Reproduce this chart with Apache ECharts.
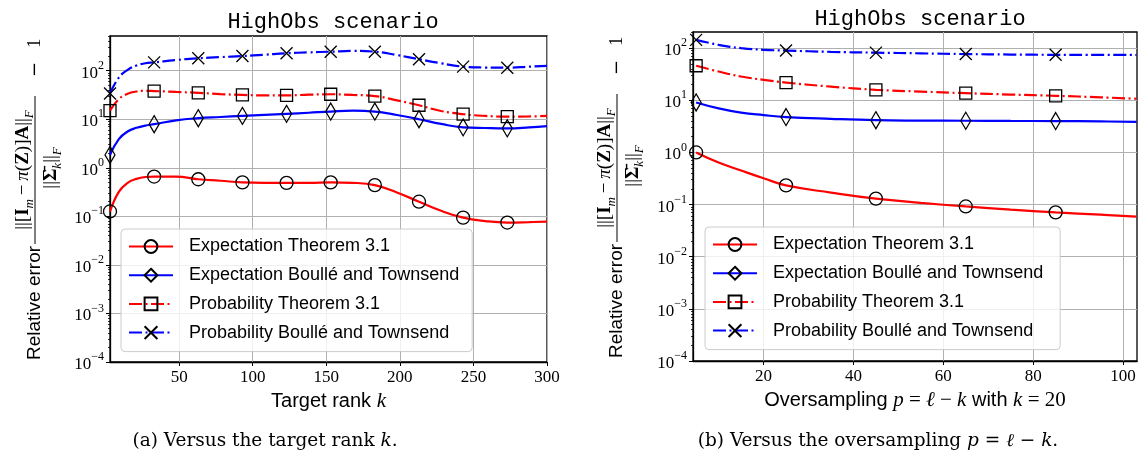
<!DOCTYPE html>
<html><head><meta charset="utf-8">
<script src="https://cdn.jsdelivr.net/npm/echarts@6/dist/echarts.min.js"></script>
<style>html,body{margin:0;padding:0;background:#fff}#c{width:1139px;height:461px}</style>
</head><body><div id="c"></div>
<script>
// ---------- data (left: versus target rank k) ----------
const kRank = [3, 9, 15, 21, 27, 33, 48, 63, 78, 93, 108, 123, 138, 153, 168, 183, 198, 213, 228, 243, 258, 273, 288, 300];
const rankExpThm  = [0.126, 0.32, 0.49, 0.59, 0.645, 0.66, 0.66, 0.58, 0.54, 0.50, 0.49, 0.49, 0.49, 0.50, 0.49, 0.44, 0.31, 0.20, 0.13, 0.094, 0.080, 0.0745, 0.076, 0.078];
const rankExpBT   = [1.84, 3.9, 5.6, 6.65, 7.4, 7.9, 9.5, 10.5, 11.1, 11.7, 12.3, 12.9, 13.6, 14.4, 15.0, 14.4, 12.2, 10.0, 8.0, 6.8, 6.6, 6.5, 6.8, 7.2];
const rankProbThm = [15, 26, 33.5, 37.3, 38.5, 38, 36.5, 35, 33, 31.6, 31, 31, 32, 32.7, 31.6, 30, 24.5, 19.4, 14.8, 12.7, 11.7, 11.3, 11.4, 11.7];
const rankProbBT  = [34, 72, 104, 128, 142, 148, 166, 180, 190, 200, 213, 228, 238, 246, 255, 246, 210, 172, 142, 121, 116, 115, 121, 126];
const rankMarkerK = [3, 33, 63, 93, 123, 153, 183, 213, 243, 273];

// ---------- data (right: versus oversampling p, k = 20) ----------
const pOver = [5, 10, 15, 20, 25, 35, 45, 55, 65, 75, 85, 95, 103];
const overExpThm  = [1.0, 0.64, 0.45, 0.32, 0.233, 0.17, 0.13, 0.108, 0.092, 0.080, 0.071, 0.064, 0.059];
const overExpBT   = [9.1, 7.0, 5.8, 5.2, 4.77, 4.4, 4.15, 4.08, 4.05, 4.02, 4.0, 3.93, 3.87];
const overProbThm = [46, 35.6, 28.6, 24.7, 21.9, 18.3, 15.9, 14.7, 13.7, 12.9, 12.2, 11.4, 10.7];
const overProbBT  = [144, 116, 100, 93, 90, 85, 82, 79.5, 77, 75.5, 74.5, 74.2, 74];
const overMarkerP = [5, 25, 45, 65, 85];

const seriesNames = ['Expectation Theorem 3.1', 'Expectation Boullé and Townsend', 'Probability Theorem 3.1', 'Probability Boullé and Townsend'];
const yTickExps = [-4, -3, -2, -1, 0, 1, 2];
const xTicksRank = [50, 100, 150, 200, 250, 300];
const xTicksOver = [20, 40, 60, 80, 100];

// ---------- styling ----------
const SERIF = "'Liberation Serif','DejaVu Serif',serif";
const DSERIF = "'DejaVu Serif','Liberation Serif',serif";
const SANS = "'Liberation Sans','DejaVu Sans',sans-serif";
const MONO = "'Liberation Mono','DejaVu Sans Mono',monospace";
const DASHDOT = [13, 3.5, 2, 3.5];
const styles = [
  {color: '#ff0000', type: 'solid', symbol: 'circle', size: 13},
  {color: '#0000ff', type: 'solid', symbol: 'diamond', size: [10, 17]},
  {color: '#ff0000', type: DASHDOT, symbol: 'rect', size: 12},
  {color: '#0000ff', type: DASHDOT, symbol: 'path://M0,0L10,10M10,0L0,10', size: 12}
];

const minorLogs = [];
for (let d = -4; d <= 2; d++) for (let m = 2; m <= 9; m++) minorLogs.push(Math.log10(m * Math.pow(10, d)));

function buildSeries(xs, ys, marks, st, name, xi, yi) {
  return {
    type: 'line', name: name, xAxisIndex: xi, yAxisIndex: yi,
    smooth: 0.45,
    symbol: st.symbol, symbolSize: st.size, showAllSymbol: true,
    lineStyle: {color: st.color, width: 2.2, type: st.type},
    itemStyle: {color: 'rgba(0,0,0,0)', borderColor: '#000', borderWidth: 1.3},
    emphasis: {disabled: true},
    data: xs.map((x, i) => marks.indexOf(x) >= 0
      ? [x, Math.log10(ys[i])]
      : {value: [x, Math.log10(ys[i])], symbol: 'none'})
  };
}

function yMain(gi, max) {
  return {
    type: 'value', gridIndex: gi, min: -4, max: max, position: 'left',
    axisLine: {show: true, lineStyle: {color: '#000', width: 1.3}},
    axisTick: {show: true, customValues: yTickExps, length: 4, lineStyle: {color: '#000', width: 1}},
    axisLabel: {
      customValues: yTickExps, margin: 6, color: '#000',
      formatter: v => '{b|10}{s|' + (v < 0 ? '\u2212' + (-v) : v) + '}',
      rich: {
        b: {fontFamily: SERIF, fontSize: 17, color: '#000', lineHeight: 22, verticalAlign: 'bottom'},
        s: {fontFamily: SERIF, fontSize: 12, color: '#000', lineHeight: 12, verticalAlign: 'top'}
      }
    },
    splitLine: {show: true, lineStyle: {color: '#b0b0b0', width: 1}}
  };
}
function yMinor(gi, max) {
  return {
    type: 'value', gridIndex: gi, min: -4, max: max, position: 'left',
    axisLine: {show: false}, axisLabel: {show: false}, splitLine: {show: false},
    axisTick: {show: true, customValues: minorLogs.filter(v => v <= max), length: 2, lineStyle: {color: '#000', width: 0.8}}
  };
}
function xAx(gi, min, max, ticks, nameRich) {
  return {
    type: 'value', gridIndex: gi, min: min, max: max,
    axisLine: {show: true, onZero: false, lineStyle: {color: '#000', width: 1.3}},
    axisTick: {show: true, customValues: ticks, length: 4, lineStyle: {color: '#000', width: 1}},
    axisLabel: {customValues: ticks, margin: 7, fontFamily: SERIF, fontSize: 17, color: '#000'},
    splitLine: {show: true, lineStyle: {color: '#b0b0b0', width: 1}},
    name: nameRich, nameLocation: 'middle', nameGap: 25,
    nameTextStyle: {
      color: '#000',
      rich: {
        t: {fontFamily: SANS, fontSize: 20, color: '#000'},
        m: {fontFamily: SERIF, fontSize: 21, fontStyle: 'italic', color: '#000'},
        r: {fontFamily: SERIF, fontSize: 21, color: '#000'}
      }
    }
  };
}

function legendAt(left, top, padRight) {
  return {
    orient: 'vertical', left: left, top: top,
    data: seriesNames,
    backgroundColor: 'rgba(255,255,255,0.8)', borderColor: '#cccccc', borderWidth: 1, borderRadius: 4,
    padding: [8.5, padRight, 10, 7], itemWidth: 44, itemHeight: 16, itemGap: 10.7,
    selectedMode: false,
    textStyle: {fontFamily: SANS, fontSize: 18, color: '#000', lineHeight: 18, padding: [0, 0, 0, 11]}
  };
}

function yLabel(ox, oy) {
  const n = {fontFamily: SERIF, fontSize: 19, color: '#000', lineHeight: 26};
  const b = {fontFamily: SERIF, fontSize: 19, fontWeight: 'bold', color: '#000', lineHeight: 26};
  const i = {fontFamily: SERIF, fontSize: 19, fontStyle: 'italic', color: '#000', lineHeight: 26};
  const s = {fontFamily: SERIF, fontSize: 13, fontStyle: 'italic', color: '#000', lineHeight: 12, verticalAlign: 'bottom'};
  return {
    type: 'group', x: ox, y: oy, rotation: Math.PI / 2, silent: true,
    children: [
      {type: 'text', x: 0, y: 0, style: {text: 'Relative error', fontFamily: SANS, fontSize: 19, fill: '#000', align: 'left', verticalAlign: 'middle'}},
      {type: 'text', x: 190, y: -12, style: {
        text: '{n|||[}{b|I}{s|m}{n|\u2009\u2212\u2009}{i|\u03c0}{n|(}{b|Z}{n|)]}{b|A}{n|||}{s|F}',
        rich: {n: n, b: b, i: i, s: s}, align: 'center', verticalAlign: 'middle'}},
      {type: 'line', shape: {x1: 116, y1: 0, x2: 264, y2: 0}, style: {stroke: '#000', lineWidth: 1}},
      {type: 'text', x: 192, y: 16, style: {
        text: '{n|||}{b|\u03a3\u0304}{s|k}{n|||}{s|F}',
        rich: {n: n, b: b, i: i, s: s}, align: 'center', verticalAlign: 'middle'}},
      {type: 'text', x: 283, y: 0, style: {text: '\u2212', fontFamily: DSERIF, fontSize: 18, fill: '#000', align: 'left', verticalAlign: 'middle'}},
      {type: 'text', x: 312, y: 0, style: {text: '1', fontFamily: SERIF, fontSize: 19, fill: '#000', align: 'left', verticalAlign: 'middle'}}
    ]
  };
}

function caption(cx, cy, parts) {
  return {
    type: 'text', x: cx, y: cy, silent: true,
    style: {
      text: parts, align: 'center', verticalAlign: 'middle',
      rich: {
        r: {fontFamily: DSERIF, fontSize: 18.5, color: '#000'},
        m: {fontFamily: DSERIF, fontSize: 18.5, fontStyle: 'italic', color: '#000'}
      }
    }
  };
}

const series = [];
const rankData = [rankExpThm, rankExpBT, rankProbThm, rankProbBT];
const overData = [overExpThm, overExpBT, overProbThm, overProbBT];
for (let j = 0; j < 4; j++) series.push(buildSeries(kRank, rankData[j], rankMarkerK, styles[j], seriesNames[j], 0, 0));
for (let j = 0; j < 4; j++) series.push(buildSeries(pOver, overData[j], overMarkerP, styles[j], seriesNames[j], 1, 2));

const option = {
  animation: false,
  backgroundColor: '#fff',
  title: [
    {text: 'HighObs scenario', left: 328, top: 6, textAlign: 'center', textStyle: {fontFamily: MONO, fontSize: 22, fontWeight: 'normal', color: '#000'}},
    {text: 'HighObs scenario', left: 915, top: 3, textAlign: 'center', textStyle: {fontFamily: MONO, fontSize: 22, fontWeight: 'normal', color: '#000'}}
  ],
  grid: [
    {left: 110, right: 592, top: 36, bottom: 99, show: true, borderColor: '#000', borderWidth: 1.3, containLabel: false},
    {left: 693, right: 2, top: 32, bottom: 100, show: true, borderColor: '#000', borderWidth: 1.3, containLabel: false}
  ],
  xAxis: [
    xAx(0, 3, 300, xTicksRank, '{t|Target rank }{m|k}'),
    xAx(1, 4.3, 103.1, xTicksOver, '{t|Oversampling }{m|p}{r| = }{m|\u2113}{r| \u2212 }{m|k}{t| with }{m|k}{r| = 20}')
  ],
  yAxis: [yMain(0, 2.714), yMinor(0, 2.714), yMain(1, 2.31), yMinor(1, 2.31)],
  legend: [legendAt(121, 229, 13), legendAt(705, 227, 17)],
  series: series,
  graphic: [
    yLabel(35, 360),
    yLabel(617, 358),
    caption(265, 441, '{r|(a) Versus the target rank }{m|k}{r|.}'),
    caption(878, 441, '{r|(b) Versus the oversampling }{m|p}{r| = }{m|\u2113}{r| \u2212 }{m|k}{r|.}')
  ]
};

const chart = echarts.init(document.getElementById('c'), null, {renderer: 'canvas'});
chart.setOption(option);
</script>
</body></html>
